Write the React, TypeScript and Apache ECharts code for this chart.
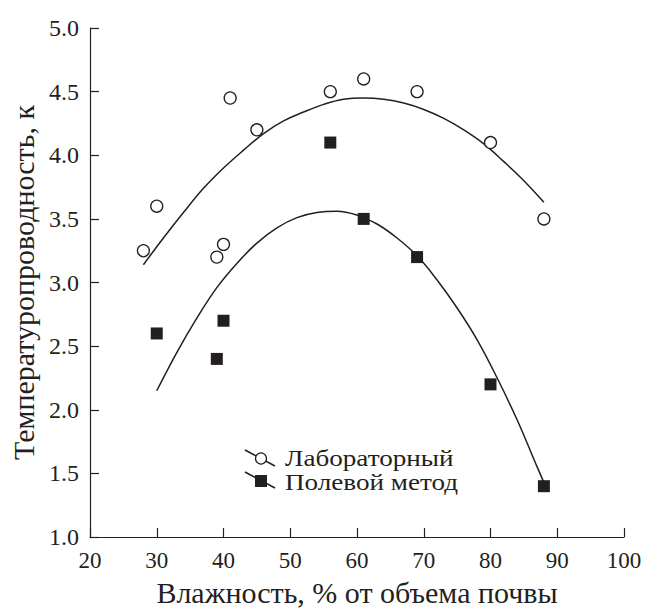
import React, { useEffect, useRef } from "react";
import * as echarts from "echarts";

// Лабораторный (open circles)
const labX = [28, 30, 39, 40, 41, 45, 56, 61, 69, 80, 88];
const labY = [3.25, 3.6, 3.2, 3.3, 4.45, 4.2, 4.5, 4.6, 4.5, 4.1, 3.5];
// Полевой метод (filled squares)
const fieldX = [30, 39, 40, 56, 61, 69, 80, 88];
const fieldY = [2.6, 2.4, 2.7, 4.1, 3.5, 3.2, 2.2, 1.4];
// trend curves
const labCurveX = [28, 31, 34, 37, 40, 43, 46, 49, 52, 55, 58, 61, 64, 67, 70, 73, 76, 79, 82, 85, 88];
const labCurveY = [3.14, 3.35, 3.55, 3.74, 3.9, 4.04, 4.17, 4.27, 4.34, 4.4, 4.44, 4.45, 4.44, 4.41, 4.36, 4.29, 4.2, 4.09, 3.95, 3.8, 3.63];
const fieldCurveX = [30, 33, 36, 39, 42, 45, 48, 51, 54, 57, 60, 63, 66, 69, 72, 75, 78, 81, 84, 87, 88];
const fieldCurveY = [2.15, 2.45, 2.72, 2.96, 3.15, 3.31, 3.43, 3.51, 3.55, 3.56, 3.53, 3.46, 3.35, 3.21, 3.02, 2.8, 2.55, 2.25, 1.92, 1.55, 1.43];

const seriesNames = ["Лабораторный", "Полевой метод"];
const xTitle = "Влажность, % от объема почвы";
const yTitle = "Температуропроводность, к";

const INK = "#231f20";
const FONT = "Liberation Serif";

const zip = (xs: number[], ys: number[]) => xs.map((x, i) => [x, ys[i]]);

export default function App() {
  const ref = useRef<HTMLDivElement>(null);
  useEffect(() => {
    if (!ref.current) return;
    const chart = echarts.init(ref.current, null, { renderer: "svg" });
    chart.setOption({
      animation: false,
      backgroundColor: "#ffffff",
      textStyle: { fontFamily: FONT, color: INK },
      grid: { left: 90, right: 22, top: 28, bottom: 63 },
      xAxis: {
        type: "value",
        min: 20,
        max: 100,
        interval: 10,
        name: xTitle,
        nameLocation: "middle",
        nameGap: 34,
        nameTextStyle: { fontFamily: FONT, fontSize: 30, color: INK },
        axisLine: { show: true, lineStyle: { color: INK, width: 1.2 } },
        axisTick: { show: true, inside: true, length: 9, lineStyle: { color: INK, width: 1.2 } },
        axisLabel: { fontFamily: FONT, fontSize: 23, color: INK, margin: 12 },
        splitLine: { show: false },
      },
      yAxis: {
        type: "value",
        min: 1,
        max: 5,
        interval: 0.5,
        name: yTitle,
        nameLocation: "middle",
        nameGap: 52,
        nameTextStyle: { fontFamily: FONT, fontSize: 30, color: INK },
        axisLine: { show: true, lineStyle: { color: INK, width: 1.2 } },
        axisTick: { show: true, inside: true, length: 9, lineStyle: { color: INK, width: 1.2 } },
        axisLabel: {
          fontFamily: FONT,
          fontSize: 24,
          color: INK,
          margin: 11,
          formatter: (v: number) => v.toFixed(1),
        },
        splitLine: { show: false },
      },
      series: [
        {
          type: "line",
          data: zip(labCurveX, labCurveY),
          smooth: 0.4,
          showSymbol: false,
          lineStyle: { color: INK, width: 1.5 },
          silent: true,
          z: 1,
        },
        {
          type: "line",
          data: zip(fieldCurveX, fieldCurveY),
          smooth: 0.4,
          showSymbol: false,
          lineStyle: { color: INK, width: 1.5 },
          silent: true,
          z: 1,
        },
        {
          name: seriesNames[0],
          type: "scatter",
          data: zip(labX, labY),
          symbol: "circle",
          symbolSize: 12,
          itemStyle: { color: "#ffffff", borderColor: INK, borderWidth: 1.3, opacity: 1 },
          z: 3,
        },
        {
          name: seriesNames[1],
          type: "scatter",
          data: zip(fieldX, fieldY),
          symbol: "rect",
          symbolSize: 12,
          itemStyle: { color: INK, opacity: 1 },
          z: 3,
        },
      ],
      graphic: [
        { type: "line", shape: { x1: 245, y1: 450, x2: 275, y2: 466 }, style: { stroke: INK, lineWidth: 1.5 } },
        { type: "circle", shape: { cx: 261, cy: 458.5, r: 5.5 }, style: { fill: "#fff", stroke: INK, lineWidth: 1.3 } },
        {
          type: "text",
          x: 285,
          y: 458.5,
          scaleX: 1.18,
          style: { text: seriesNames[0], font: `23px "${FONT}"`, fill: INK, verticalAlign: "middle", align: "left" },
        },
        { type: "line", shape: { x1: 245, y1: 472, x2: 275, y2: 488 }, style: { stroke: INK, lineWidth: 1.5 } },
        { type: "rect", shape: { x: 255, y: 475, width: 12, height: 12 }, style: { fill: INK } },
        {
          type: "text",
          x: 285,
          y: 482,
          scaleX: 1.18,
          style: { text: seriesNames[1], font: `23px "${FONT}"`, fill: INK, verticalAlign: "middle", align: "left" },
        },
      ],
    });
    return () => chart.dispose();
  }, []);
  return <div ref={ref} style={{ width: 646, height: 612, position: "absolute", left: 0, top: 0 }} />;
}
